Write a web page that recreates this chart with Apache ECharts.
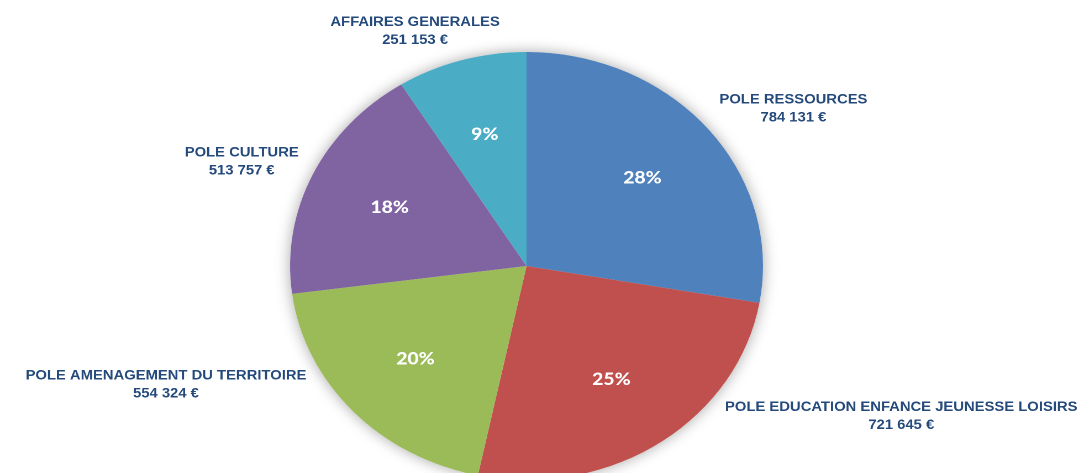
<!DOCTYPE html>
<html>
<head>
<meta charset="utf-8">
<title>Répartition par pôle</title>
<script src="https://cdn.jsdelivr.net/npm/echarts@6/dist/echarts.min.js"></script>
<style>
  html, body { margin: 0; padding: 0; background: #fff; overflow: hidden; }
  /* le camembert d'origine est étiré en largeur : on dessine un cercle puis on l'étire */
  #main { width: 981px; height: 473px; transform: scaleX(1.105); transform-origin: 0 0; }
</style>
</head>
<body>
<div id="main"></div>
<script>
var poles = ['POLE RESSOURCES', 'POLE EDUCATION ENFANCE JEUNESSE LOISIRS', 'POLE AMENAGEMENT DU TERRITOIRE', 'POLE CULTURE', 'AFFAIRES GENERALES'];
var montants = [784131, 721645, 554324, 513757, 251153];
var couleurs = ['#4f81bd', '#c0504d', '#9bbb59', '#8064a2', '#4bacc6'];

var CX = 476.5, CY = 266, R = 214;
var total = montants.reduce(function (a, b) { return a + b; }, 0);

// angle du milieu de la part i, en radians depuis le haut, sens horaire
function angleMilieu(i) {
  var cumul = 0;
  for (var k = 0; k < i; k++) cumul += montants[k];
  return (cumul + montants[i] / 2) / total * 2 * Math.PI;
}
function euros(v) { return String(v).replace(/\B(?=(\d{3})+(?!\d))/g, ' ') + ' €'; }
function borne(v) { return Math.max(-1, Math.min(1, v)); }

function placeInterieur(p) {
  var a = angleMilieu(p.dataIndex);
  return { x: CX + 0.64 * R * Math.sin(a), y: CY - 0.64 * R * Math.cos(a), align: 'center', verticalAlign: 'middle' };
}
// étiquette collée au bord, façon Excel ; celles du bas remontent vers l'horizontale
function placeExterieur(p) {
  var a = angleMilieu(p.dataIndex);
  if (Math.cos(a) < 0) {
    var horiz = a < Math.PI ? Math.PI / 2 : 3 * Math.PI / 2;
    a = horiz + (a - horiz) * 0.68;
  }
  var dx = Math.sin(a), dy = -Math.cos(a);
  var w = p.labelRect.width, h = p.labelRect.height;
  var x = CX + R * dx + borne(1.8 * dx) * w / 2 + 14 * dx;
  var y = CY + R * dy + dy * (h / 2 + 12);
  return { x: x, y: y, align: 'center', verticalAlign: 'middle' };
}

var donnees = poles.map(function (n, i) {
  return { name: n, value: montants[i], itemStyle: { color: couleurs[i] } };
});

var myChart = echarts.init(document.getElementById('main'), null, { devicePixelRatio: 2 });
myChart.setOption({
  animation: false,
  series: [
    { // ombre portée sous le disque entier
      type: 'pie', center: [CX, CY], radius: R, silent: true, z: 1,
      data: [{ value: total }],
      itemStyle: { color: '#fff', shadowBlur: 14, shadowColor: 'rgba(0,0,0,0.35)' },
      label: { show: false }, labelLine: { show: false }
    },
    {
      type: 'pie', center: [CX, CY], radius: R, startAngle: 90, clockwise: true,
      silent: true, z: 2, percentPrecision: 0, avoidLabelOverlap: false,
      data: donnees,
      label: { position: 'inside', formatter: '{d}%', color: '#fff', fontFamily: 'Lato', fontWeight: 900, fontSize: 17.5 },
      labelLine: { show: false },
      labelLayout: placeInterieur
    },
    {
      type: 'pie', center: [CX, CY], radius: R, startAngle: 90, clockwise: true,
      silent: true, z: 3, avoidLabelOverlap: false,
      data: donnees.map(function (d) { return { name: d.name, value: d.value }; }),
      itemStyle: { color: 'rgba(0,0,0,0)' },
      label: {
        position: 'outside', color: '#24497b', fontFamily: 'Liberation Sans', fontWeight: 'bold',
        fontSize: 13.4, lineHeight: 18, align: 'center',
        formatter: function (p) { return p.name + '\n' + euros(p.value); }
      },
      labelLine: { show: false },
      labelLayout: placeExterieur
    }
  ]
});
</script>
</body>
</html>
